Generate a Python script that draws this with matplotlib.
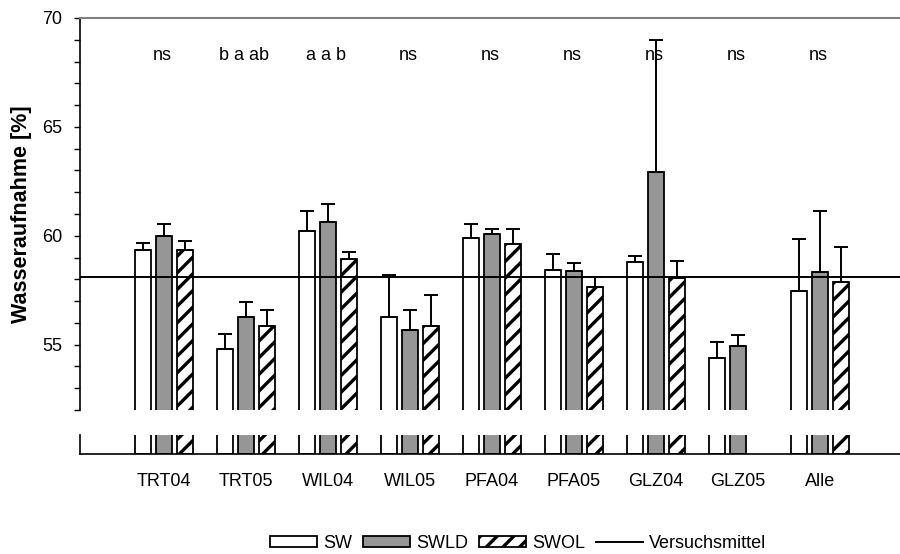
import matplotlib
matplotlib.use("Agg")
import matplotlib.pyplot as plt
import numpy as np
from matplotlib.patches import Patch
from matplotlib.lines import Line2D

plt.rcParams.update({
    "font.family": ["Liberation Sans", "DejaVu Sans"],
    "font.size": 13,
    "hatch.linewidth": 2.4,
})

# --- data ---
sites = ["TRT04", "TRT05", "WIL04", "WIL05", "PFA04", "PFA05", "GLZ04", "GLZ05", "Alle"]
sw      = [59.35, 54.79, 60.23, 56.27, 59.90, 58.43, 58.80, 54.38, 57.47]
sw_err  = [0.33, 0.69, 0.92, 1.93, 0.65, 0.74, 0.28, 0.74, 2.39]
swld    = [60.00, 56.27, 60.65, 55.67, 60.10, 58.37, 62.95, 54.93, 58.34]
swld_err = [0.55, 0.69, 0.82, 0.93, 0.20, 0.39, 6.05, 0.51, 2.81]
swol    = [59.35, 55.85, 58.94, 55.85, 59.60, 57.65, 58.06, np.nan, 57.88]
swol_err = [0.42, 0.75, 0.32, 1.43, 0.70, 0.45, 0.79, np.nan, 1.62]
signif  = ["ns", "b a ab", "a a b", "ns", "ns", "ns", "ns", "ns", "ns"]
mean_all = 58.1

W, H = 900, 554
fig = plt.figure(figsize=(9, 5.54), dpi=100)
ax = fig.add_axes([80 / W, 1 - 410 / H, 1 - 80 / W, (410 - 18) / H])
axl = fig.add_axes([80 / W, 1 - 454 / H, 1 - 80 / W, (454 - 435) / H])

x = np.arange(len(sites))
bw = 0.195
off = 0.256
series = [
    (sw, sw_err, dict(facecolor="white"), -off),
    (swld, swld_err, dict(facecolor="#969696"), 0.0),
    (swol, swol_err, dict(facecolor="white", hatch="//"), off),
]

for vals, errs, style, dx in series:
    vals = np.array(vals, dtype=float)
    errs = np.array(errs, dtype=float)
    for a in (ax, axl):
        a.bar(x + dx, vals, width=bw, edgecolor="black", linewidth=1.3, zorder=2, **style)
    ok = ~np.isnan(vals)
    ax.errorbar(x[ok] + dx, vals[ok], yerr=[np.zeros(ok.sum()), errs[ok]], fmt="none",
                ecolor="black", elinewidth=1.4, capsize=4.8, capthick=1.4, zorder=3)

ax.axhline(mean_all, color="black", linewidth=1.4, zorder=4)

for xi, s in zip(x, signif):
    ax.text(xi - 0.02, 68.3, s, ha="center", va="center", fontsize=13)

xl = (-1.024, 8.976)
ax.set_xlim(*xl)
axl.set_xlim(*xl)
ax.set_ylim(52, 70)
axl.set_ylim(0, 1)

ax.set_yticks([55, 60, 65, 70])
ax.set_yticks(np.arange(52, 71, 1), minor=True)
ax.tick_params(axis="y", which="both", direction="out", length=4, width=1, labelsize=13, pad=9)
ax.tick_params(axis="x", bottom=False, labelbottom=False)
ax.spines["right"].set_visible(False)
ax.spines["bottom"].set_visible(False)
ax.spines["top"].set_color("#808080")
ax.spines["top"].set_linewidth(1.5)
ax.spines["left"].set_linewidth(1.2)
ax.set_ylabel("Wasseraufnahme [%]", fontweight="bold", fontsize=15.5)
ax.yaxis.set_label_coords(-48 / (W - 80), 0.5)

axl.set_yticks([])
axl.set_xticks(x)
axl.set_xticklabels(sites)
axl.tick_params(axis="x", length=0, pad=14, labelsize=13)
axl.spines["right"].set_visible(False)
axl.spines["top"].set_visible(False)
axl.spines["left"].set_linewidth(1.2)
axl.spines["bottom"].set_linewidth(1.2)

handles = [
    Patch(facecolor="white", edgecolor="black", linewidth=1.3),
    Patch(facecolor="#969696", edgecolor="black", linewidth=1.3),
    Patch(facecolor="white", edgecolor="black", hatch="//", linewidth=1.3),
    Line2D([0], [0], color="black", linewidth=1.4),
]
fig.legend(handles, ["SW", "SWLD", "SWOL", "Versuchsmittel"], loc="center",
           bbox_to_anchor=(518 / W, 1 - 543 / H), ncol=4, frameon=False,
           handlelength=2.6, handleheight=0.55, handletextpad=0.35,
           columnspacing=0.6, fontsize=13)

fig.savefig("out.png", dpi=100)
